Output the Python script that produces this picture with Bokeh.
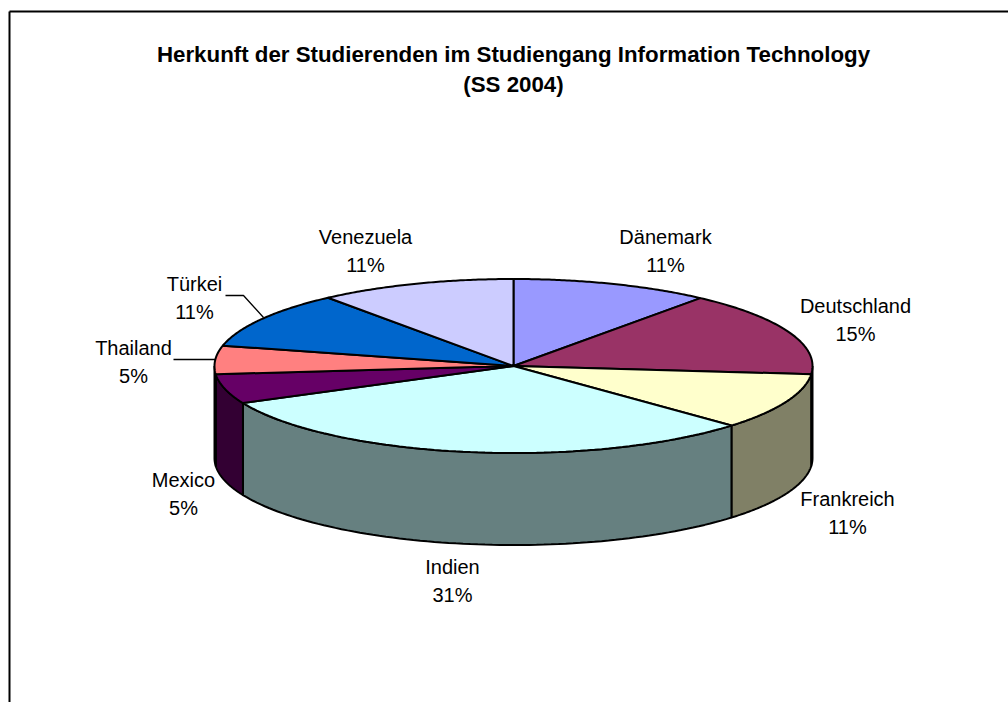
import numpy as np
from bokeh.plotting import figure
from bokeh.models import Range1d
from bokeh.core.properties import value
from bokeh.embed import file_html
from bokeh.resources import INLINE

categories = ["Dänemark", "Deutschland", "Frankreich", "Indien", "Mexico", "Thailand", "Türkei", "Venezuela"]
shares = [10.75, 15.75, 10.5, 31.0, 5.5, 5.25, 10.6, 10.65]
percent_labels = ["11%", "15%", "11%", "31%", "5%", "5%", "11%", "11%"]
top_colors = ["#9999FF", "#993366", "#FFFFCC", "#CCFFFF", "#660066", "#FF8080", "#0066CC", "#CCCCFF"]
side_colors = ["#4C4C80", "#4D1933", "#808066", "#668080", "#330033", "#804040", "#003366", "#666680"]
title_lines = ["Herkunft der Studierenden im Studiengang Information Technology", "(SS 2004)"]

# label anchor (centre x, first line centre y), in page pixels
label_pos = {"Dänemark": (665, 236), "Deutschland": (855, 305), "Frankreich": (847, 498),
             "Indien": (452, 566), "Mexico": (183, 479), "Thailand": (133, 347),
             "Türkei": (194, 283), "Venezuela": (365, 236)}

W, H = 1008, 702
CX, CY, RX, RY, DEPTH = 513, 365.5, 299, 87, 92
FONT = "Liberation Sans"

p = figure(width=W, height=H, output_backend="svg", toolbar_location=None,
           x_range=Range1d(0, W), y_range=Range1d(H, 0),
           min_border=0, outline_line_color=None)
p.axis.visible = False
p.grid.visible = False
p.background_fill_color = "white"
p.border_fill_color = "white"

# frame
p.line([9, 9], [702, 11], line_color="black", line_width=2)
p.line([9, 1008], [11, 11], line_color="black", line_width=2)

edges = np.cumsum([0.0] + shares) / sum(shares) * 2 * np.pi

def ell(t, dy=0.0):
    return CX + RX * np.sin(t), CY - RY * np.cos(t) + dy

# sides: only the front-facing arcs (pi/2 .. 3pi/2)
for i in range(len(shares)):
    a, b = max(edges[i], np.pi / 2), min(edges[i + 1], 3 * np.pi / 2)
    if b <= a:
        continue
    t = np.linspace(a, b, 80)
    x1, y1 = ell(t)
    x2, y2 = ell(t[::-1], DEPTH)
    p.patch(np.r_[x1, x2], np.r_[y1, y2], fill_color=side_colors[i], line_color="black", line_width=2)

# top face
for i in range(len(shares)):
    t = np.linspace(edges[i], edges[i + 1], 80)
    x, y = ell(t)
    p.patch(np.r_[CX, x], np.r_[CY, y], fill_color=top_colors[i], line_color="black", line_width=2)

# leader lines
p.line([173, 215], [359, 359], line_color="black", line_width=1.3)
p.line([225, 243, 263], [295, 295, 317], line_color="black", line_width=1.3)

# labels
for name, pct in zip(categories, percent_labels):
    x, y = label_pos[name]
    p.text([x, x], [y, y + 28], text=[name, pct], text_align="center", text_baseline="middle",
           text_font=value(FONT), text_font_size="20px", text_color="black")

for line, y in zip(title_lines, [54, 84]):
    p.text([513], [y], text=[line], text_align="center", text_baseline="middle",
           text_font=value(FONT), text_font_style="bold", text_font_size="22.3px", text_color="black")

open("out.html", "w").write(file_html(p, INLINE))
